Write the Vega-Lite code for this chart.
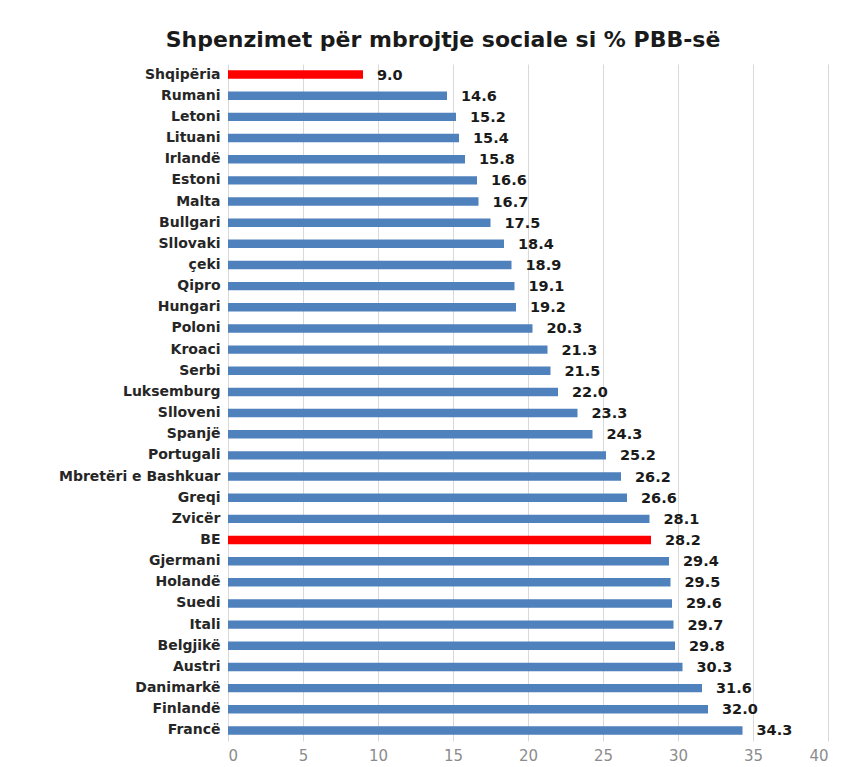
{
  "$schema": "https://vega.github.io/schema/vega-lite/v6.json",
  "autosize": "none",
  "width": 600,
  "height": 677,
  "padding": {"left": 228, "top": 64, "right": 29, "bottom": 26},
  "background": "white",
  "title": {
    "text": "Shpenzimet për mbrojtje sociale si % PBB-së",
    "anchor": "middle",
    "frame": "group",
    "dx": -85,
    "offset": 12,
    "font": "DejaVu Sans",
    "fontSize": 22,
    "fontWeight": "bold",
    "color": "#1a1a1a"
  },
  "data": {
    "values": [
      {"vend": "Shqipëria", "vlera": 9.0, "grup": "red"},
      {"vend": "Rumani", "vlera": 14.6, "grup": "blue"},
      {"vend": "Letoni", "vlera": 15.2, "grup": "blue"},
      {"vend": "Lituani", "vlera": 15.4, "grup": "blue"},
      {"vend": "Irlandë", "vlera": 15.8, "grup": "blue"},
      {"vend": "Estoni", "vlera": 16.6, "grup": "blue"},
      {"vend": "Malta", "vlera": 16.7, "grup": "blue"},
      {"vend": "Bullgari", "vlera": 17.5, "grup": "blue"},
      {"vend": "Sllovaki", "vlera": 18.4, "grup": "blue"},
      {"vend": "çeki", "vlera": 18.9, "grup": "blue"},
      {"vend": "Qipro", "vlera": 19.1, "grup": "blue"},
      {"vend": "Hungari", "vlera": 19.2, "grup": "blue"},
      {"vend": "Poloni", "vlera": 20.3, "grup": "blue"},
      {"vend": "Kroaci", "vlera": 21.3, "grup": "blue"},
      {"vend": "Serbi", "vlera": 21.5, "grup": "blue"},
      {"vend": "Luksemburg", "vlera": 22.0, "grup": "blue"},
      {"vend": "Slloveni", "vlera": 23.3, "grup": "blue"},
      {"vend": "Spanjë", "vlera": 24.3, "grup": "blue"},
      {"vend": "Portugali", "vlera": 25.2, "grup": "blue"},
      {"vend": "Mbretëri e Bashkuar", "vlera": 26.2, "grup": "blue"},
      {"vend": "Greqi", "vlera": 26.6, "grup": "blue"},
      {"vend": "Zvicër", "vlera": 28.1, "grup": "blue"},
      {"vend": "BE", "vlera": 28.2, "grup": "red"},
      {"vend": "Gjermani", "vlera": 29.4, "grup": "blue"},
      {"vend": "Holandë", "vlera": 29.5, "grup": "blue"},
      {"vend": "Suedi", "vlera": 29.6, "grup": "blue"},
      {"vend": "Itali", "vlera": 29.7, "grup": "blue"},
      {"vend": "Belgjikë", "vlera": 29.8, "grup": "blue"},
      {"vend": "Austri", "vlera": 30.3, "grup": "blue"},
      {"vend": "Danimarkë", "vlera": 31.6, "grup": "blue"},
      {"vend": "Finlandë", "vlera": 32.0, "grup": "blue"},
      {"vend": "Francë", "vlera": 34.3, "grup": "blue"}
    ]
  },
  "encoding": {
    "y": {
      "field": "vend",
      "type": "nominal",
      "sort": null,
      "title": null,
      "scale": {"paddingInner": 0.6, "paddingOuter": 0.3},
      "axis": {
        "labelFont": "DejaVu Sans",
        "labelFontSize": 14,
        "labelFontWeight": "bold",
        "labelColor": "#262626",
        "labelPadding": 8,
        "labelLimit": 300,
        "ticks": false,
        "domain": false
      }
    },
    "x": {
      "field": "vlera",
      "type": "quantitative",
      "title": null,
      "scale": {"domain": [0, 40], "nice": false},
      "axis": {
        "values": [0, 5, 10, 15, 20, 25, 30, 35, 40],
        "labelFont": "DejaVu Sans",
        "labelFontSize": 15,
        "labelColor": "#8c8c8c",
        "labelPadding": 7,
        "ticks": false,
        "domain": false,
        "grid": true,
        "gridColor": "#d9d9d9",
        "gridWidth": 1
      }
    }
  },
  "layer": [
    {
      "mark": {"type": "bar"},
      "encoding": {
        "color": {
          "field": "grup",
          "type": "nominal",
          "scale": {"domain": ["red", "blue"], "range": ["#ff0000", "#4f81bd"]},
          "legend": null
        }
      }
    },
    {
      "mark": {
        "type": "text",
        "align": "left",
        "baseline": "middle",
        "dx": 14,
        "dy": 1,
        "font": "DejaVu Sans",
        "fontSize": 14.5,
        "fontWeight": "bold",
        "color": "#1a1a1a"
      },
      "encoding": {
        "text": {"field": "vlera", "type": "quantitative", "format": ".1f"}
      }
    }
  ],
  "config": {
    "view": {"stroke": null}
  }
}
